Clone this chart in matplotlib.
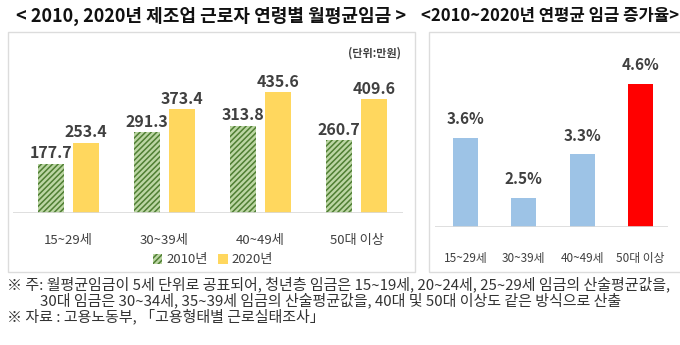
import matplotlib
matplotlib.use("Agg")
import matplotlib.pyplot as plt
from matplotlib.patches import Rectangle, Patch
import numpy as np

plt.rcParams['font.family'] = ['Noto Sans CJK KR', 'DejaVu Sans']
plt.rcParams['hatch.linewidth'] = 1.1

# ---- data ----
groups = ["15~29세", "30~39세", "40~49세", "50대 이상"]
wage_2010 = [177.7, 291.3, 313.8, 260.7]
wage_2020 = [253.4, 373.4, 435.6, 409.6]
growth = [3.6, 2.5, 3.3, 4.6]
series_labels = ["2010년", "2020년"]

title_left = "< 2010, 2020년 제조업 근로자 연령별 월평균임금 >"
title_right = "<2010~2020년 연평균 임금 증가율>"
unit_text = "(단위:만원)"
notes = [
    "※ 주: 월평균임금이 5세 단위로 공표되어, 청년층 임금은 15~19세, 20~24세, 25~29세 임금의 산술평균값을,",
    "30대 임금은 30~34세, 35~39세 임금의 산술평균값을, 40대 및 50대 이상도 같은 방식으로 산출",
    "※ 자료 : 고용노동부, 「고용형태별 근로실태조사」",
]

W, H = 680, 345
fig = plt.figure(figsize=(W / 100, H / 100), dpi=100)
fig.patch.set_facecolor('white')

def fx(px):
    return px / W

def fy(py):
    return 1 - py / H

# panel boxes
box_col = '#dcdcdc'
fig.patches.append(Rectangle((fx(8), fy(272)), fx(415 - 8), (272 - 32) / H,
                             transform=fig.transFigure, fill=False,
                             edgecolor=box_col, lw=1.0, zorder=0))
fig.patches.append(Rectangle((fx(429), fy(272)), fx(700 - 429), (272 - 32) / H,
                             transform=fig.transFigure, fill=False,
                             edgecolor=box_col, lw=1.0, zorder=0))

txt_col = '#404040'

# ---- left chart ----
ax1 = fig.add_axes([fx(13), fy(213), fx(403 - 13), (213 - 40) / H])
x = np.arange(len(groups))
bw = 0.28
off = 0.182
green_face = '#bcd6a4'
green_hatch = '#4f7f33'
yellow = '#FFD75E'
ax1.bar(x - off, wage_2010, bw, color=green_face, edgecolor=green_hatch,
        hatch='//////', lw=0)
ax1.bar(x + off, wage_2020, bw, color=yellow, lw=0)
for xi, v in zip(x - off, wage_2010):
    ax1.text(xi, v + 8, f"{v:.1f}", ha='center', va='bottom', fontsize=11.5,
             fontweight='bold', color=txt_col)
for xi, v in zip(x + off, wage_2020):
    ax1.text(xi, v + 8, f"{v:.1f}", ha='center', va='bottom', fontsize=11.5,
             fontweight='bold', color=txt_col)
ax1.set_xlim(-0.578, 3.484)
ax1.set_ylim(0, 622)
ax1.axhline(0, color='#d9d9d9', lw=1.2)
ax1.set_yticks([])
ax1.set_xticks(x)
ax1.set_xticklabels(groups, fontsize=9.5, color=txt_col)
ax1.tick_params(axis='x', length=0, pad=15)
for s in ax1.spines.values():
    s.set_visible(False)
ax1.patch.set_alpha(0)

handles = [Patch(facecolor=green_face, edgecolor=green_hatch, hatch='//////', lw=0),
           Patch(facecolor=yellow, lw=0)]
fig.legend(handles, series_labels, loc='center', bbox_to_anchor=(fx(213), fy(260)),
           ncol=2, frameon=False, fontsize=9.5, handlelength=0.7, handleheight=0.7,
           handletextpad=0.3, columnspacing=0.8, labelcolor=txt_col)

# ---- right chart ----
ax2 = fig.add_axes([fx(435), fy(227), fx(668 - 435), (227 - 40) / H])
bar_cols = ['#9DC3E6', '#9DC3E6', '#9DC3E6', '#FF0000']
ax2.bar(x, growth, 0.43, color=bar_cols, lw=0)
for xi, v in zip(x, growth):
    ax2.text(xi, v + 0.2, f"{v:.1f}%", ha='center', va='bottom', fontsize=11,
             fontweight='bold', color=txt_col)
ax2.set_xlim(-0.523, 3.47)
ax2.set_ylim(1.97, 5.40)
ax2.axhline(1.97, color='#d9d9d9', lw=1.2)
ax2.set_yticks([])
ax2.set_xticks(x)
ax2.set_xticklabels(groups, fontsize=8.5, color=txt_col)
ax2.tick_params(axis='x', length=0, pad=18)
for s in ax2.spines.values():
    s.set_visible(False)
ax2.patch.set_alpha(0)

# ---- titles & texts ----
fig.text(fx(211), fy(16), title_left, ha='center', va='center', fontsize=13,
         fontweight='bold', color='#111111')
fig.text(fx(550), fy(16), title_right, ha='center', va='center', fontsize=12,
         fontweight='bold', color='#111111')
fig.text(fx(401), fy(53), unit_text, ha='right', va='center', fontsize=8,
         fontweight='bold', color=txt_col)

fs_note = 10.8
fig.text(fx(7), fy(284), notes[0], ha='left', va='center', fontsize=fs_note, color='#333333')
fig.text(fx(40), fy(300), notes[1], ha='left', va='center', fontsize=fs_note, color='#333333')
fig.text(fx(7), fy(316), notes[2], ha='left', va='center', fontsize=fs_note, color='#333333')

fig.savefig('out.png', dpi=100)
